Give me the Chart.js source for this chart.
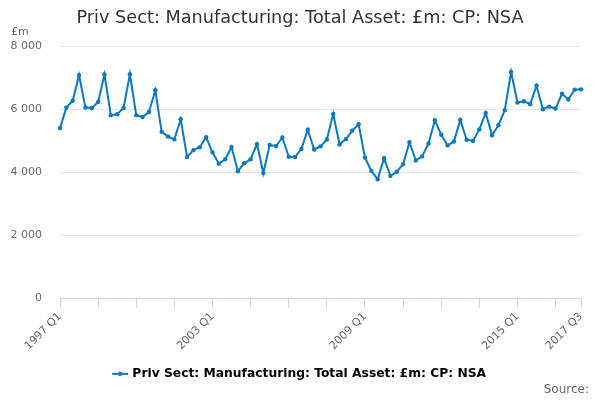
<!DOCTYPE html>
<html>
<head>
<meta charset="utf-8">
<script src="https://cdn.jsdelivr.net/npm/chart.js@4/dist/chart.umd.min.js"></script>
<style>
  html, body { margin: 0; padding: 0; background: #fff; }
  #wrap { width: 600px; height: 400px; }
</style>
</head>
<body>
<div id="wrap"><canvas id="my-chart" width="600" height="400"></canvas></div>
<script>
const title = "Priv Sect: Manufacturing: Total Asset: £m: CP: NSA";
const unitLabel = "£m";
const sourceLabel = "Source:";

const startYear = 1997;
const quarterCount = 83; // 1997 Q1 .. 2017 Q3
const shownLabels = ["1997 Q1", "2003 Q1", "2009 Q1", "2015 Q1", "2017 Q3"];
const yTicks = [0, 2000, 4000, 6000, 8000];

const values = [
  5400, 6050, 6270, 7080, 6050, 6040, 6230, 7100, 5810, 5840, 6040, 7110,
  5810, 5750, 5910, 6600, 5280, 5130, 5040, 5680, 4480, 4700, 4790, 5110,
  4630, 4270, 4410, 4800, 4030, 4280, 4410, 4890, 3970, 4860, 4830, 5100,
  4490, 4480, 4740, 5350, 4720, 4820, 5040, 5850, 4880, 5050, 5320, 5520,
  4460, 4040, 3770, 4440, 3880, 4010, 4250, 4950, 4370, 4500, 4910, 5650,
  5190, 4850, 4970, 5660, 5030, 4990, 5360, 5880, 5170, 5490, 5970, 7180,
  6210, 6250, 6160, 6750, 6000, 6080, 6020, 6490, 6310, 6620, 6630
];

const quarters = [];
for (let i = 0; i < quarterCount; i++) {
  quarters.push((startYear + Math.floor(i / 4)) + " Q" + (i % 4 + 1));
}

const lineColor = "#0b79c0";
Chart.defaults.font.family = "'DejaVu Sans', sans-serif";

// legend marker: short line with a dot
const marker = document.createElement("canvas");
marker.width = 18;
marker.height = 8;
const mctx = marker.getContext("2d");
mctx.strokeStyle = lineColor;
mctx.lineWidth = 2;
mctx.beginPath();
mctx.moveTo(1, 4);
mctx.lineTo(17, 4);
mctx.stroke();
mctx.fillStyle = lineColor;
mctx.beginPath();
mctx.arc(9, 4, 2.2, 0, Math.PI * 2);
mctx.fill();

const extraText = {
  id: "extraText",
  afterDraw(chart) {
    const ctx = chart.ctx;
    ctx.save();
    ctx.font = "11px 'DejaVu Sans', sans-serif";
    ctx.fillStyle = "#666";
    ctx.textBaseline = "middle";
    ctx.textAlign = "left";
    ctx.fillText(unitLabel, 11, 32);
    ctx.font = "12px 'DejaVu Sans', sans-serif";
    ctx.textAlign = "right";
    ctx.fillText(sourceLabel, 589, 390);
    ctx.restore();
  }
};

const ctx = document.getElementById("my-chart").getContext("2d");
const chart = new Chart(ctx, {
  type: "line",
  data: {
    labels: quarters,
    datasets: [{
      label: title,
      data: values,
      borderColor: lineColor,
      backgroundColor: lineColor,
      borderWidth: 2,
      pointRadius: 2.2,
      pointBackgroundColor: lineColor,
      pointBorderWidth: 0,
      tension: 0
    }]
  },
  options: {
    responsive: false,
    animation: false,
    layout: { padding: { left: 0, right: 0, top: 0, bottom: 10 } },
    plugins: {
      title: {
        display: true,
        text: title,
        color: "#333",
        font: { size: 17.7, weight: "normal" },
        padding: { top: 8, bottom: 17 }
      },
      legend: {
        position: "bottom",
        labels: {
          color: "#333",
          font: { size: 12.3, weight: "bold" },
          usePointStyle: true,
          generateLabels(c) {
            return [{
              text: title,
              pointStyle: marker,
              fillStyle: lineColor,
              strokeStyle: lineColor,
              lineWidth: 0,
              datasetIndex: 0
            }];
          },
          padding: 8
        }
      },
      tooltip: { enabled: false }
    },
    scales: {
      x: {
        offset: false,
        afterFit(scale) { scale.height = scale.height + 5; },
        border: { color: "#ccd6eb", width: 1 },
        grid: {
          drawOnChartArea: false,
          drawTicks: true,
          tickLength: 10,
          color(c) {
            const i = c.index;
            return (i % 6 === 0 || i === quarterCount - 1) ? "#ccd6eb" : "rgba(0,0,0,0)";
          }
        },
        ticks: {
          autoSkip: false,
          maxRotation: 45,
          minRotation: 45,
          color: "#666",
          font: { size: 11 },
          padding: 2,
          callback(v, i) {
            const lab = quarters[i];
            return shownLabels.includes(lab) ? lab : "";
          }
        }
      },
      y: {
        min: 0,
        max: 8000,
        afterFit(scale) { scale.width = 60; },
        afterBuildTicks(scale) { scale.ticks = yTicks.map(v => ({ value: v })); },
        border: { display: false },
        grid: { color: "#e6e6e6", drawTicks: false },
        ticks: {
          color: "#666",
          font: { size: 11 },
          padding: 18,
          callback(v) { return v.toString().replace(/\B(?=(\d{3})+(?!\d))/g, " "); }
        }
      },
      // empty right-hand strip so the plot ends where the reference ends
      yRight: {
        position: "right",
        min: 0,
        max: 8000,
        afterFit(scale) { scale.width = 19; },
        border: { display: false },
        grid: { display: false },
        ticks: { display: false }
      }
    }
  },
  plugins: [extraText]
});
</script>
</body>
</html>
